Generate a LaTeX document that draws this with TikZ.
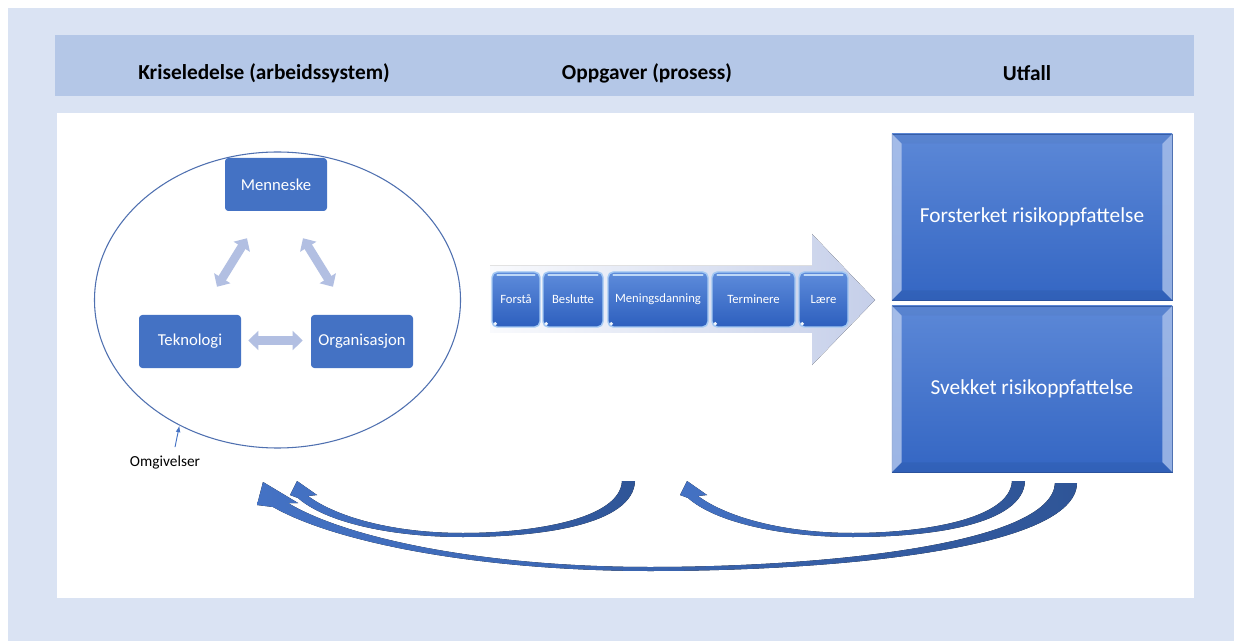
\documentclass[tikz,border=0pt]{standalone}
\usepackage{fontspec}
\setmainfont{Carlito}
\usetikzlibrary{arrows.meta,calc,shapes.geometric}
\definecolor{bgc}{HTML}{DAE3F3}
\definecolor{hdr}{HTML}{B4C7E7}
\definecolor{acc}{HTML}{4472C4}
\definecolor{dk}{HTML}{2F5597}
\definecolor{lite}{HTML}{B2BFE2}
\definecolor{ellc}{HTML}{4F70B0}
\definecolor{sbtop}{HTML}{5E8CDB}
\definecolor{sbbot}{HTML}{2D5FBE}
\definecolor{sbedge}{HTML}{A3C8F3}
\definecolor{obtop}{HTML}{5C88D7}
\definecolor{obbot}{HTML}{3466C3}
\begin{document}
\begin{tikzpicture}[x=0.75pt,y=-0.75pt,
  hdrtxt/.style={font=\bfseries\fontsize{16}{19}\selectfont, text=black, inner sep=0pt},
  sysbox/.style={rectangle, fill=acc, rounded corners=2.5pt, minimum width=76.5pt,
    minimum height=39.75pt, text=white, font=\fontsize{12.5}{15}\selectfont, inner sep=0pt},
  dbl/.style={lite, line width=6.5pt, {Triangle[width=14pt,length=7.5pt]}-{Triangle[width=14pt,length=7.5pt]}},
  stepbx/.style={rectangle, top color=sbtop, bottom color=sbbot, draw=sbedge, line width=1.1pt,
    rounded corners=4pt, minimum height=41.25pt, text=white, font=\fontsize{9.5}{11}\selectfont, inner sep=0pt},
  outbox/.style={rectangle, top color=obtop, bottom color=obbot, draw=obbot!80!black, line width=0.6pt,
    minimum width=210pt, minimum height=124.5pt, text=white, font=\fontsize{16}{19}\selectfont, inner sep=0pt},
  carr/.style={left color=acc, right color=dk}
]
\useasboundingbox (0,0) rectangle (1234,641);
\fill[bgc] (8,8) rectangle (1234,641);
\fill[hdr] (55,35) rectangle (1194,96);
\fill[white] (57,113) rectangle (1194,598);

% headers
\node[hdrtxt] (h1) at (264,73) {Kriseledelse (arbeidssystem)};
\node[hdrtxt] (h2) at (647,73) {Oppgaver (prosess)};
\node[hdrtxt] (h3) at (1027,73) {Utfall};

% environment ellipse
\node[ellipse, draw=ellc, line width=0.8pt, minimum width=274.5pt, minimum height=222pt, inner sep=0pt] (env) at (277.5,300) {};

% system triangle
\node[sysbox] (men) at (276,184.5) {Menneske};
\node[sysbox] (tek) at (190,341.5) {Teknologi};
\node[sysbox] (org) at (362,341.5) {Organisasjon};
\draw[dbl] ($(men.south)+(-29,27)$) -- ($(tek.north)+(27,-28)$);
\draw[dbl] ($(men.south)+(27,27)$) -- ($(org.north)+(-29,-28)$);
\draw[dbl] ($(tek.east)+(7,-1)$) -- ($(org.west)+(-8,-1)$);

% Omgivelser
\node[font=\fontsize{11.5}{14}\selectfont, inner sep=0pt] (omg) at (165,462) {Omgivelser};
\draw[acc, line width=0.7pt, -{Latex[length=5pt,width=3.5pt]}] ($(omg.north)+(10,-8)$) -- (env.232);

% process arrow
\fill[left color=white!92!lite, right color=lite!75!white]
  (490,266) -- (812,266) -- (812,234) -- (875,300) -- (812,365) -- (812,333) -- (490,333) -- cycle;
\node[stepbx, minimum width=36pt] (s1) at (516,299.5) {Forstå};
\node[stepbx, minimum width=45pt] (s2) at (573,299.5) {Beslutte};
\node[stepbx, minimum width=75pt] (s3) at (658,299.5) {Meningsdanning};
\node[stepbx, minimum width=62.25pt] (s4) at (753.5,299.5) {Terminere};
\node[stepbx, minimum width=36.75pt] (s5) at (823.5,299.5) {Lære};
\foreach \s in {s1,s2,s3,s4,s5}{
  \draw[sbedge!70!white, line width=1.4pt, line cap=round] ($(\s.north west)+(6,4)$) -- ($(\s.north east)+(-6,4)$);
  \fill[white!85!sbedge] ($(\s.south west)+(4,-4)$) circle[radius=1.4pt];
}

% outcome boxes
\node[outbox] (fo) at (1032,217) {Forsterket risikoppfattelse};
\node[outbox] (sv) at (1032,389) {Svekket risikoppfattelse};
\foreach \b in {fo,sv}{
  \fill[white!55!obtop, opacity=0.8] (\b.north west) -- ($(\b.north west)+(10,10)$) -- ($(\b.south west)+(10,-10)$) -- (\b.south west) -- cycle;
  \fill[white!45!obtop, opacity=0.85] (\b.north east) -- ($(\b.north east)+(-10,10)$) -- ($(\b.south east)+(-10,-10)$) -- (\b.south east) -- cycle;
  \fill[obtop!90!black, opacity=0.3] (\b.north west) -- (\b.north east) -- ($(\b.north east)+(-10,10)$) -- ($(\b.north west)+(10,10)$) -- cycle;
  \fill[obbot!85!black, opacity=0.35] (\b.south west) -- (\b.south east) -- ($(\b.south east)+(-10,-10)$) -- ($(\b.south west)+(10,-10)$) -- cycle;
}

% feedback arrows
\fill[carr] (622,481) .. controls (620,520) and (530,533) .. (463,533) .. controls (390,533) and (335,516) .. (308,496)
  -- (317,495) -- (297,481) -- (290,495) -- (298,498) .. controls (325,522) and (390,537) .. (463,537)
  .. controls (540,537) and (633,525) .. (635,481) -- cycle;
\fill[carr] (1012,481) .. controls (1010,520) and (920,533) .. (853,533) .. controls (780,533) and (725,516) .. (698,496)
  -- (707,495) -- (687,481) -- (680,495) -- (688,498) .. controls (715,522) and (780,537) .. (853,537)
  .. controls (930,537) and (1023,525) .. (1025,481) -- cycle;
\fill[carr] (1055,483) .. controls (1052,545) and (820,567) .. (650,567) .. controls (490,567) and (350,540) .. (288,503)
  -- (298,503) -- (263,482) -- (257,505) -- (273,507) .. controls (340,545) and (490,571) .. (650,571)
  .. controls (830,571) and (1076,550) .. (1077,483) -- cycle;
\end{tikzpicture}
\end{document}
